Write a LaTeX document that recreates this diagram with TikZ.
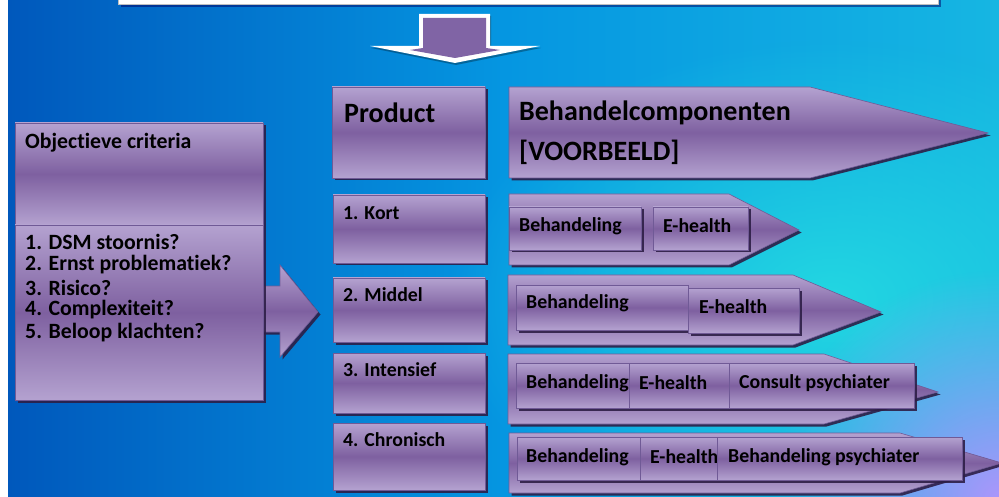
\documentclass[tikz,border=0pt]{standalone}
\usepackage{fontspec}
\setmainfont{Carlito}[Ligatures=NoCommon]
\usetikzlibrary{shadows,fadings,fit}
\definecolor{plight}{RGB}{180,162,208}
\definecolor{pdark}{RGB}{126,96,160}
\definecolor{pborder}{RGB}{112,90,150}
\definecolor{pshadow}{RGB}{45,30,70}
\definecolor{bgleft}{RGB}{0,88,188}
\definecolor{bgmid}{RGB}{5,150,225}
\definecolor{bgright}{RGB}{22,182,226}
\definecolor{glowcyan}{RGB}{35,215,225}
\definecolor{glowpurple}{RGB}{172,150,252}
\definecolor{arrowpurple}{RGB}{128,100,165}
\tikzfading[name=glowfade, inner color=transparent!0, outer color=transparent!100]
\begin{document}
\begin{tikzpicture}[x=1pt,y=-1pt,
  pshape/.style={top color=plight, bottom color=plight, middle color=pdark,
    draw=pborder, line width=0.6pt,
    drop shadow={shadow xshift=2.5pt, shadow yshift=-2.5pt, fill=pshadow, opacity=0.9}},
  pbox/.style={pshape, rectangle, inner sep=0pt, outer sep=0pt},
  lbl/.style={anchor=west, inner sep=0pt, text=black, font=\bfseries\fontsize{19.8}{22}\selectfont},
  crit/.style={lbl, font=\bfseries\fontsize{21.8}{23}\selectfont},
  head/.style={lbl, font=\bfseries\fontsize{28}{30}\selectfont}
]
\useasboundingbox (0,0) rectangle (999,497);
% background
\fill[white] (0,0) rectangle (999,497);
\shade[left color=bgleft, right color=bgright, middle color=bgmid] (8,0) rectangle (999,497);
\begin{scope}
  \clip (8,0) rectangle (999,497);
  \fill[glowcyan, path fading=glowfade] (830,300) ellipse [x radius=380, y radius=260];
  \fill[glowpurple, path fading=glowfade] (1000,500) circle [radius=230];
\end{scope}
% top white box (cut off)
\fill[black!60!blue, opacity=0.5] (121,0) rectangle (941,7);
\node[fill=white, draw=gray!50, inner sep=0pt, fit={(118,-5) (938,4)}] (topbox) {};
% down arrow
\path[fill=white, drop shadow={shadow xshift=1pt, shadow yshift=-2pt, fill=black, opacity=0.3}]
  (419,14) -- (490,14) -- (490,46) -- (540,46) -- (455,63) -- (370,46) -- (419,46) -- cycle;
\fill[arrowpurple] (423,18) -- (486,18) -- (486,48) -- (500,50) -- (455,58) -- (410,50) -- (423,48) -- cycle;

% right arrow from criteria to products
\path[pshape] (240,286) -- (280,286) -- (280,265) -- (318,312) -- (280,357) -- (280,332) -- (240,332) -- cycle;

% criteria boxes
\node[pbox, fit={(15,123) (263,225)}] (crit) {};
\node[pbox, fit={(15,225) (263,400)}] (critlist) {};
\node[crit] (tcrit) at (25,143) {Objectieve criteria};
\node[crit] (c1) at (25,242) {1. DSM stoornis?};
\node[crit] (c2) at (25,265) {2. Ernst problematiek?};
\node[crit] (c3) at (25,288) {3. Risico?};
\node[crit] (c4) at (25,310) {4. Complexiteit?};
\node[crit] (c5) at (25,333) {5. Beloop klachten?};

% product column
\node[pbox, fit={(332,87) (485,178)}] (product) {};
\node[head] (tproduct) at (344,113) {Product};
\node[pbox, fit={(333,195) (485,263)}] (kort) {};
\node[lbl] (tkort) at (343,213) {1. Kort};
\node[pbox, fit={(333,278) (485,342)}] (middel) {};
\node[lbl] (tmiddel) at (343,295) {2. Middel};
\node[pbox, fit={(333,353) (485,413)}] (intensief) {};
\node[lbl] (tintensief) at (343,370) {3. Intensief};
\node[pbox, fit={(333,423) (485,490)}] (chronisch) {};
\node[lbl] (tchronisch) at (343,440) {4. Chronisch};

% header arrow
\path[pshape] (509,87) -- (810,87) -- (988,133) -- (810,178) -- (509,178) -- cycle;
\node[head] (tbeh) at (519,113) {Behandelcomponenten};
\node[head] (tvoor) at (519,152) {[VOORBEELD]};

% row 1
\path[pshape] (509,194) -- (729,194) -- (799,230) -- (729,265) -- (509,265) -- cycle;
\node[pbox, fit={(509,207) (641,250)}] (r1a) {};
\node[lbl] (tr1a) at (519,226) {Behandeling};
\node[pbox, fit={(653,207) (748,250)}] (r1b) {};
\node[lbl] (tr1b) at (663,226) {E-health};

% row 2
\path[pshape] (508,275) -- (793,275) -- (881,312) -- (793,345) -- (508,345) -- cycle;
\node[pbox, fit={(516,285) (688,330)}] (r2a) {};
\node[lbl] (tr2a) at (526,303) {Behandeling};
\node[pbox, fit={(688,288) (799,333)}] (r2b) {};
\node[lbl] (tr2b) at (699,307) {E-health};

% row 3
\path[pshape] (508,354) -- (824,354) -- (938,392) -- (824,424) -- (508,424) -- cycle;
\node[pbox, fit={(516,363) (629,408)}] (r3a) {};
\node[lbl] (tr3a) at (526,383) {Behandeling};
\node[pbox, fit={(629,363) (729,408)}] (r3b) {};
\node[lbl] (tr3b) at (639,383) {E-health};
\node[pbox, fit={(729,363) (914,408)}] (r3c) {};
\node[lbl] (tr3c) at (739,383) {Consult psychiater};

% row 4
\path[pshape] (509,433) -- (900,433) -- (1002,463) -- (900,493) -- (509,493) -- cycle;
\node[pbox, fit={(517,437) (640,480)}] (r4a) {};
\node[lbl] (tr4a) at (526,457) {Behandeling};
\node[pbox, fit={(640,437) (717,480)}] (r4b) {};
\node[lbl] (tr4b) at (650,457) {E-health};
\node[pbox, fit={(717,437) (962,480)}] (r4c) {};
\node[lbl] (tr4c) at (728,457) {Behandeling psychiater};
\end{tikzpicture}
\end{document}
